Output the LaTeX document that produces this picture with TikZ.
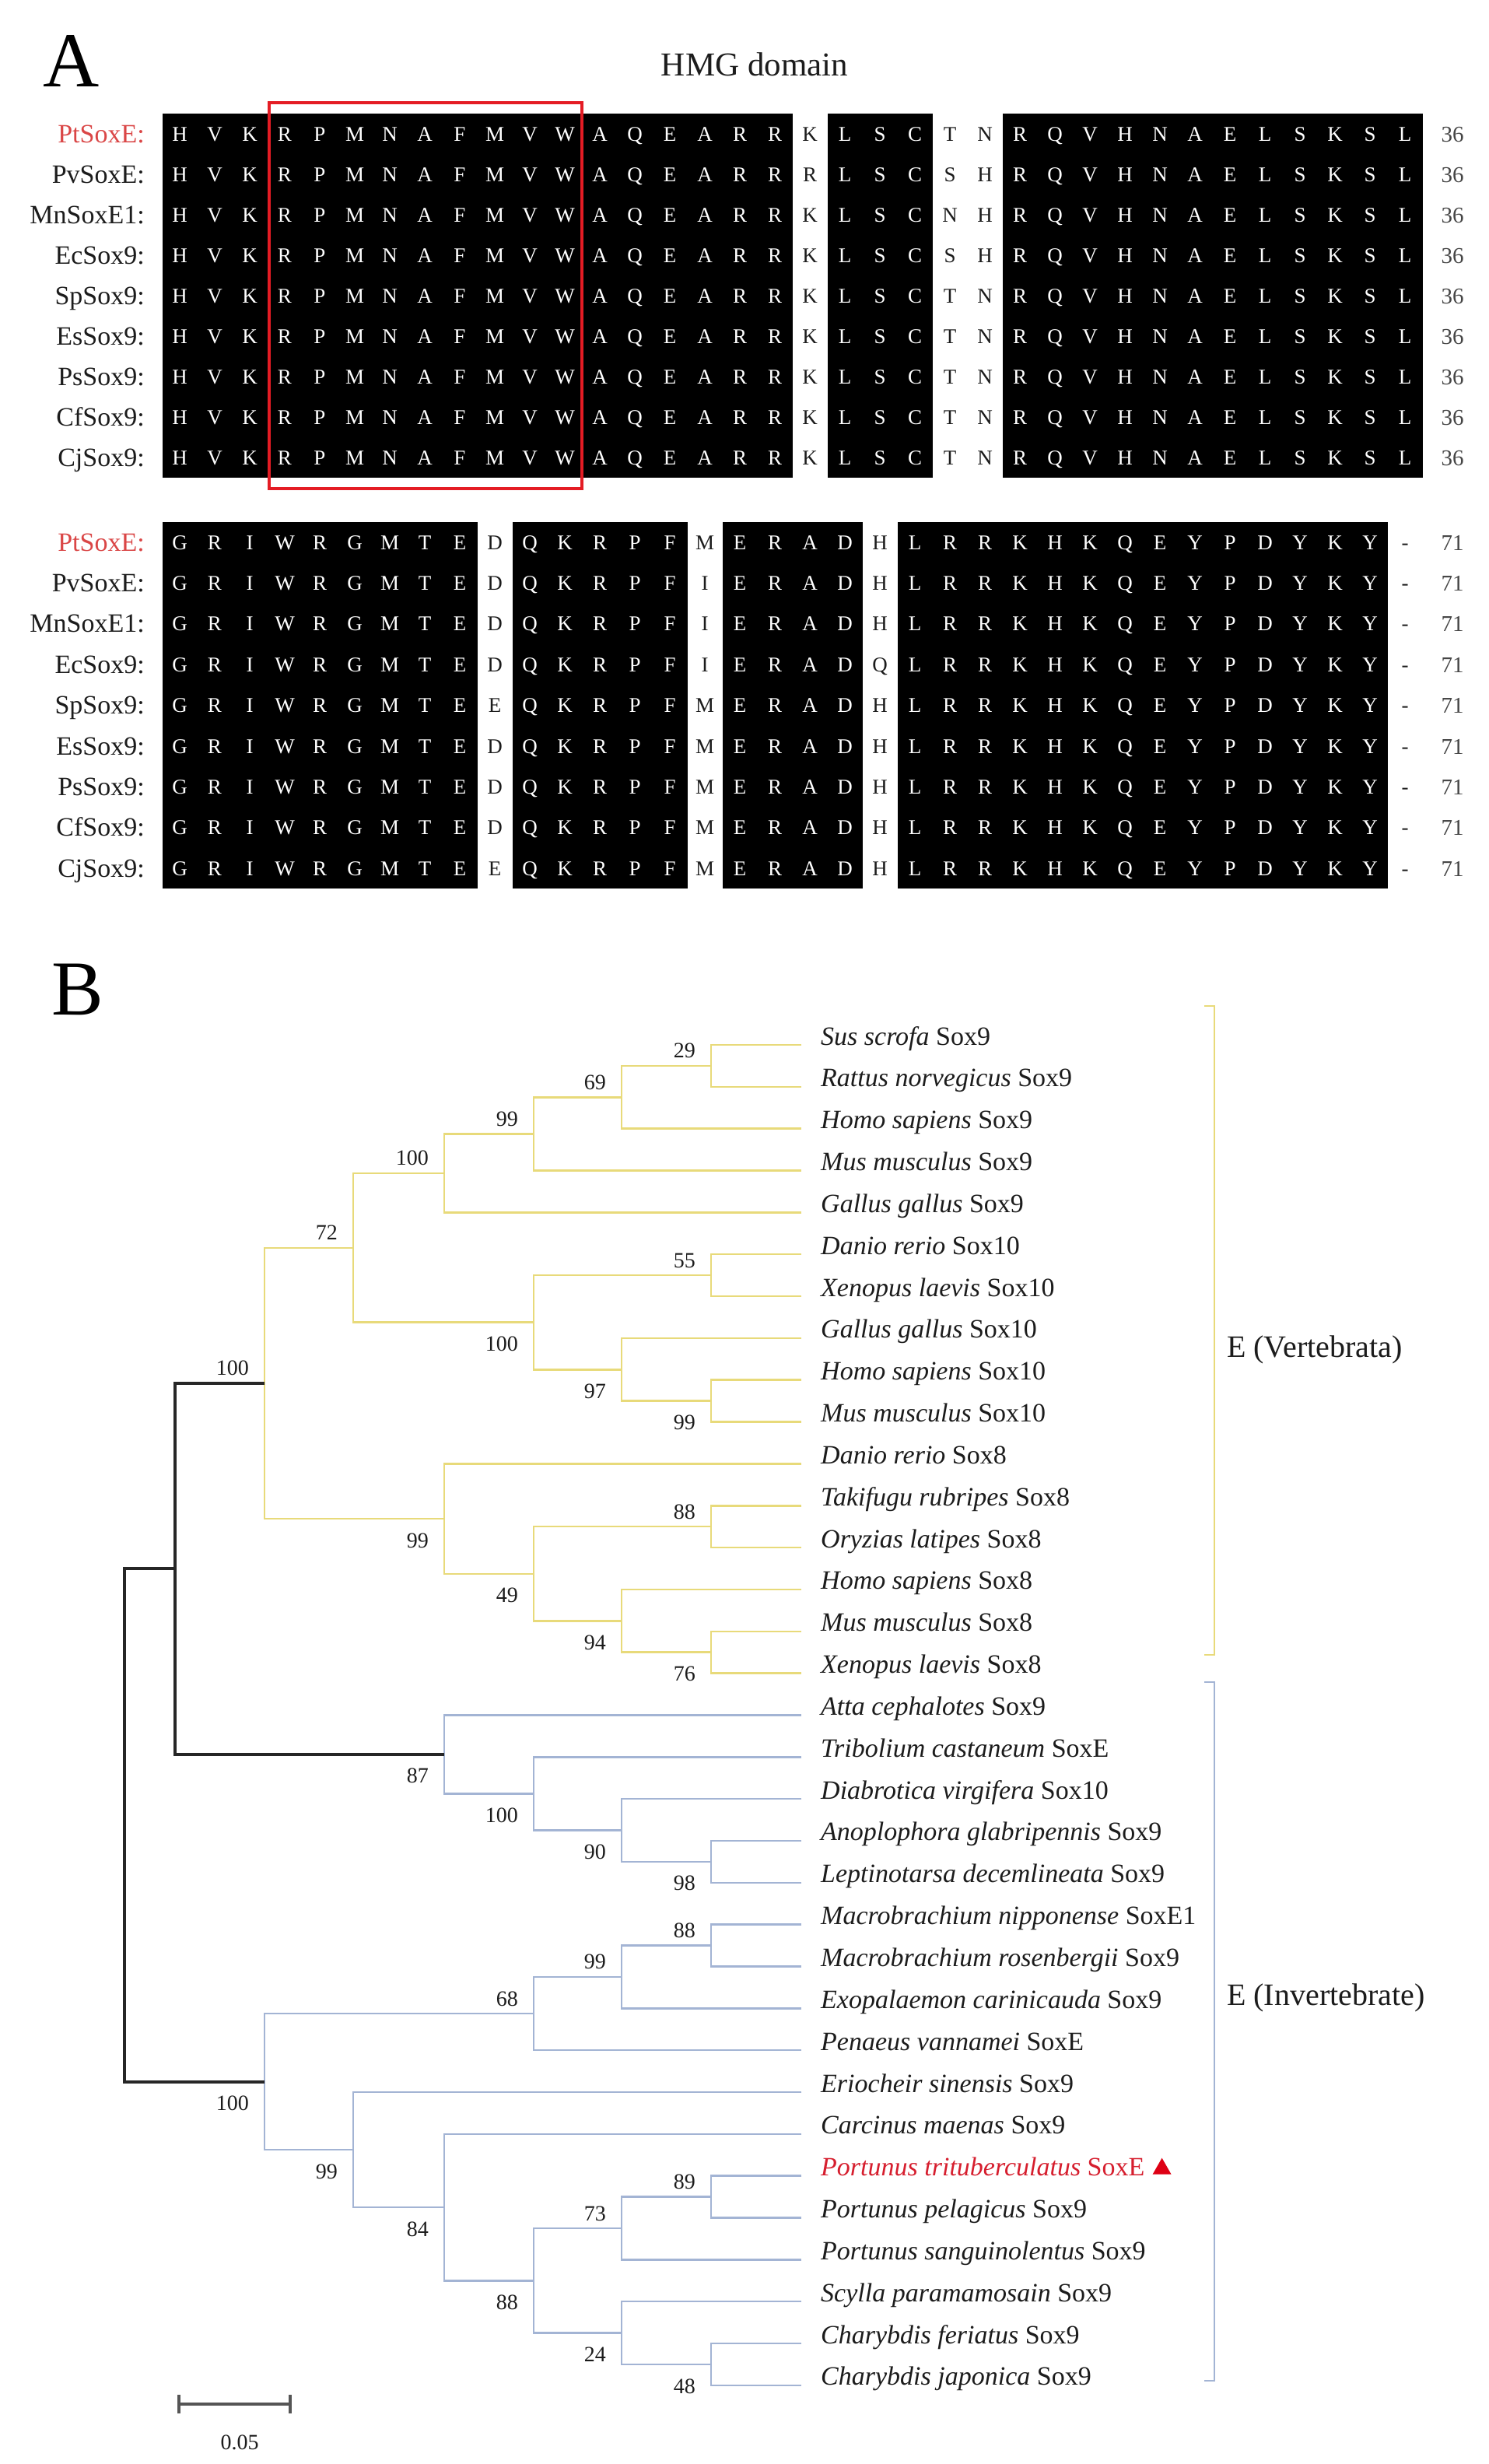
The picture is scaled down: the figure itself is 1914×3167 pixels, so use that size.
\documentclass[tikz,border=0pt]{standalone}
\usepackage{fontspec}
\setmainfont{Liberation Serif}
\usetikzlibrary{calc}
\definecolor{ycol}{RGB}{232,218,122}
\definecolor{bcol}{RGB}{163,180,212}
\definecolor{redbox}{RGB}{228,28,36}
\definecolor{ptred}{RGB}{218,70,70}
\definecolor{leafred}{RGB}{214,30,46}
\definecolor{trired}{RGB}{222,0,20}
\definecolor{txt}{RGB}{28,28,28}
\definecolor{numgray}{RGB}{70,70,70}
\definecolor{sbgray}{RGB}{85,85,85}
\makeatletter
\newcommand\alrow[6]{%
  \node[lab] (#1lab) at (186,#2+11) {#3};
  \node[num] (#1num) at (1867,#2+10) {#6};
  \foreach \c [count=\i] in {#4} {%
    \edef\alTmp{\noexpand\in@{,\i,}{#5}}\alTmp
    \ifin@\node[resd] (#1c\i) at ({231+(\i-1)*45},#2+9) {\c};%
    \else\node[res] (#1c\i) at ({231+(\i-1)*45},#2+9) {\c};\fi
  }%
}
\makeatother
\newcommand\rowA[5]{\alrow{#1}{#2}{#3}{H,V,K,R,P,M,N,A,F,M,V,W,A,Q,E,A,R,R,#4,L,S,C,#5,R,Q,V,H,N,A,E,L,S,K,S,L}{,19,23,24,}{36}}
\newcommand\rowB[6]{\alrow{#1}{#2}{#3}{G,R,I,W,R,G,M,T,E,#4,Q,K,R,P,F,#5,E,R,A,D,#6,L,R,R,K,H,K,Q,E,Y,P,D,Y,K,Y,-}{,10,16,21,36,}{71}}
\newcommand\tn[3]{\coordinate (#1) at (#2,{1343+(#3-1)*53.84});}
\newcommand\bsu[3]{\node[bs] (#1) at ($(#2)+(-20,-10)$) {#3};}
\newcommand\bsd[3]{\node[bs] (#1) at ($(#2)+(-20,37)$) {#3};}
\newcommand\leaflab[2]{\node[leaf] (t#1) at ($(l#1)+(25,0)$) {#2};}
\begin{document}
\begin{tikzpicture}[x=1pt,y=-1pt,
  res/.style={font=\fontsize{27}{27}\selectfont,text=white,anchor=base,inner sep=0pt},
  resd/.style={res,text=txt},
  lab/.style={font=\fontsize{34}{34}\selectfont,text=txt,anchor=base east,inner sep=0pt},
  num/.style={font=\fontsize{29}{29}\selectfont,text=numgray,anchor=base,inner sep=0pt},
  yb/.style={draw=ycol,line width=2.5pt},
  bb/.style={draw=bcol,line width=2.5pt},
  kb/.style={draw=black!85,line width=4pt},
  bs/.style={font=\fontsize{28}{28}\selectfont,text=txt,anchor=base east,inner sep=0pt},
  leaf/.style={font=\fontsize{34}{34}\selectfont,text=txt,anchor=base west,inner sep=0pt},
  grp/.style={font=\fontsize{40}{40}\selectfont,text=txt,anchor=west,inner sep=0pt},
  panel/.style={font=\fontsize{100}{100}\selectfont,text=black,anchor=base west,inner sep=0pt}]
\useasboundingbox (0,0) rectangle (1914,3167);
\fill[white] (0,0) rectangle (1914,3167);

% ---------------- Panel A ----------------
\node[panel] (pA) at (55,111) {A};
\node[font=\fontsize{43}{43}\selectfont,anchor=base,inner sep=0pt,text=txt] (hmg) at (970,97) {HMG domain};

% block 1 black cells
\fill[black] (208.5,146) rectangle (1018.5,614);
\fill[black] (1063.5,146) rectangle (1198.5,614);
\fill[black] (1288.5,146) rectangle (1828.5,614);
% block 2 black cells
\fill[black] (208.5,671) rectangle (613.5,1142);
\fill[black] (658.5,671) rectangle (883.5,1142);
\fill[black] (928.5,671) rectangle (1108.5,1142);
\fill[black] (1153.5,671) rectangle (1783.5,1142);

\rowA{a1}{172}{\textcolor{ptred}{PtSoxE:}}{K}{T,N}
\rowA{a2}{224}{PvSoxE:}{R}{S,H}
\rowA{a3}{276}{MnSoxE1:}{K}{N,H}
\rowA{a4}{328}{EcSox9:}{K}{S,H}
\rowA{a5}{380}{SpSox9:}{K}{T,N}
\rowA{a6}{432}{EsSox9:}{K}{T,N}
\rowA{a7}{484}{PsSox9:}{K}{T,N}
\rowA{a8}{536}{CfSox9:}{K}{T,N}
\rowA{a9}{588}{CjSox9:}{K}{T,N}

\draw[redbox,line width=4pt] (346,132) rectangle (748,628);

\rowB{b1}{697}{\textcolor{ptred}{PtSoxE:}}{D}{M}{H}
\rowB{b2}{749.4}{PvSoxE:}{D}{I}{H}
\rowB{b3}{801.8}{MnSoxE1:}{D}{I}{H}
\rowB{b4}{854.2}{EcSox9:}{D}{I}{Q}
\rowB{b5}{906.6}{SpSox9:}{E}{M}{H}
\rowB{b6}{959}{EsSox9:}{D}{M}{H}
\rowB{b7}{1011.4}{PsSox9:}{D}{M}{H}
\rowB{b8}{1063.8}{CfSox9:}{D}{M}{H}
\rowB{b9}{1116.2}{CjSox9:}{E}{M}{H}

% ---------------- Panel B ----------------
\node[panel] (pB) at (66,1304) {B};

\foreach \i in {1,...,33} {\coordinate (l\i) at (1030,{1343+(\i-1)*53.84});}
% vertebrate nodes
\tn{n29}{914}{1.5}
\tn{n69}{799}{2.25}
\tn{n99a}{686}{3.125}
\tn{n100a}{571}{4.0625}
\tn{n55}{914}{6.5}
\tn{n99b}{914}{9.5}
\tn{n97}{799}{8.75}
\tn{n100b}{686}{7.625}
\tn{n72}{454}{5.84375}
\tn{n88a}{914}{12.5}
\tn{n76}{914}{15.5}
\tn{n94}{799}{14.75}
\tn{n49}{686}{13.625}
\tn{n99c}{571}{12.3125}
\tn{n100v}{340}{9.078125}
% invertebrate nodes
\tn{n98}{914}{20.5}
\tn{n90}{799}{19.75}
\tn{n100i}{686}{18.875}
\tn{n87}{571}{17.9375}
\tn{n225}{225}{13.5078}
\tn{n88b}{914}{22.5}
\tn{n99d}{799}{23.25}
\tn{n68}{686}{24.125}
\tn{n89}{914}{28.5}
\tn{n73}{799}{29.25}
\tn{n48}{914}{32.5}
\tn{n24}{799}{31.75}
\tn{n88c}{686}{30.5}
\tn{n84}{571}{28.75}
\tn{n99e}{454}{27.375}
\tn{n100c}{340}{25.75}
\tn{root}{160}{19.629}

% vertebrate branches
\draw[yb] (l1) -| (n29) |- (l2);
\draw[yb] (n29) -| (n69) |- (l3);
\draw[yb] (n69) -| (n99a) |- (l4);
\draw[yb] (n99a) -| (n100a) |- (l5);
\draw[yb] (l6) -| (n55) |- (l7);
\draw[yb] (l9) -| (n99b) |- (l10);
\draw[yb] (l8) -| (n97) |- (n99b);
\draw[yb] (n55) -| (n100b) |- (n97);
\draw[yb] (n100a) -| (n72) |- (n100b);
\draw[yb] (l12) -| (n88a) |- (l13);
\draw[yb] (l15) -| (n76) |- (l16);
\draw[yb] (l14) -| (n94) |- (n76);
\draw[yb] (n88a) -| (n49) |- (n94);
\draw[yb] (l11) -| (n99c) |- (n49);
\draw[yb] (n72) -| (n100v) |- (n99c);
% invertebrate branches
\draw[bb] (l20) -| (n98) |- (l21);
\draw[bb] (l19) -| (n90) |- (n98);
\draw[bb] (l18) -| (n100i) |- (n90);
\draw[bb] (l17) -| (n87) |- (n100i);
\draw[bb] (l22) -| (n88b) |- (l23);
\draw[bb] (n88b) -| (n99d) |- (l24);
\draw[bb] (n99d) -| (n68) |- (l25);
\draw[bb] (l28) -| (n89) |- (l29);
\draw[bb] (n89) -| (n73) |- (l30);
\draw[bb] (l32) -| (n48) |- (l33);
\draw[bb] (l31) -| (n24) |- (n48);
\draw[bb] (n73) -| (n88c) |- (n24);
\draw[bb] (l27) -| (n84) |- (n88c);
\draw[bb] (l26) -| (n99e) |- (n84);
\draw[bb] (n68) -| (n100c) |- (n99e);
% black backbone
\draw[kb] (n100v) -| (n225) |- (n87);
\draw[kb] (n225) -| (root) |- (n100c);

% bootstrap values
\bsu{s29}{n29}{29}
\bsu{s69}{n69}{69}
\bsu{s99a}{n99a}{99}
\bsu{s100a}{n100a}{100}
\bsu{s72}{n72}{72}
\bsu{s100v}{n100v}{100}
\bsu{s55}{n55}{55}
\bsd{s100b}{n100b}{100}
\bsd{s97}{n97}{97}
\bsd{s99b}{n99b}{99}
\bsd{s99c}{n99c}{99}
\bsu{s88a}{n88a}{88}
\bsd{s49}{n49}{49}
\bsd{s94}{n94}{94}
\bsd{s76}{n76}{76}
\bsd{s87}{n87}{87}
\bsd{s100i}{n100i}{100}
\bsd{s90}{n90}{90}
\bsd{s98}{n98}{98}
\bsu{s88b}{n88b}{88}
\bsu{s99d}{n99d}{99}
\bsu{s68}{n68}{68}
\bsd{s100c}{n100c}{100}
\bsd{s99e}{n99e}{99}
\bsd{s84}{n84}{84}
\bsu{s73}{n73}{73}
\bsu{s89}{n89}{89}
\bsd{s88c}{n88c}{88}
\bsd{s24}{n24}{24}
\bsd{s48}{n48}{48}

% leaf labels
\leaflab{1}{\textit{Sus scrofa} Sox9}
\leaflab{2}{\textit{Rattus norvegicus} Sox9}
\leaflab{3}{\textit{Homo sapiens} Sox9}
\leaflab{4}{\textit{Mus musculus} Sox9}
\leaflab{5}{\textit{Gallus gallus} Sox9}
\leaflab{6}{\textit{Danio rerio} Sox10}
\leaflab{7}{\textit{Xenopus laevis} Sox10}
\leaflab{8}{\textit{Gallus gallus} Sox10}
\leaflab{9}{\textit{Homo sapiens} Sox10}
\leaflab{10}{\textit{Mus musculus} Sox10}
\leaflab{11}{\textit{Danio rerio} Sox8}
\leaflab{12}{\textit{Takifugu rubripes} Sox8}
\leaflab{13}{\textit{Oryzias latipes} Sox8}
\leaflab{14}{\textit{Homo sapiens} Sox8}
\leaflab{15}{\textit{Mus musculus} Sox8}
\leaflab{16}{\textit{Xenopus laevis} Sox8}
\leaflab{17}{\textit{Atta cephalotes} Sox9}
\leaflab{18}{\textit{Tribolium castaneum} SoxE}
\leaflab{19}{\textit{Diabrotica virgifera} Sox10}
\leaflab{20}{\textit{Anoplophora glabripennis} Sox9}
\leaflab{21}{\textit{Leptinotarsa decemlineata} Sox9}
\leaflab{22}{\textit{Macrobrachium nipponense} SoxE1}
\leaflab{23}{\textit{Macrobrachium rosenbergii} Sox9}
\leaflab{24}{\textit{Exopalaemon carinicauda} Sox9}
\leaflab{25}{\textit{Penaeus vannamei} SoxE}
\leaflab{26}{\textit{Eriocheir sinensis} Sox9}
\leaflab{27}{\textit{Carcinus maenas} Sox9}
\leaflab{28}{\textcolor{leafred}{\textit{Portunus trituberculatus} SoxE}}
\leaflab{29}{\textit{Portunus pelagicus} Sox9}
\leaflab{30}{\textit{Portunus sanguinolentus} Sox9}
\leaflab{31}{\textit{Scylla paramamosain} Sox9}
\leaflab{32}{\textit{Charybdis feriatus} Sox9}
\leaflab{33}{\textit{Charybdis japonica} Sox9}
\fill[trired] ($(t28.base east)+(10,-2)$) -- ++(24,0) -- ++(-12,-21) -- cycle;

% group brackets
\coordinate (vbt) at (1561,1293);
\coordinate (vbb) at (1561,2127);
\draw[draw=ycol,line width=2.5pt] ($(vbt)+(-13,0)$) -- (vbt) -- (vbb) -- ($(vbb)+(-13,0)$);
\node[grp] (vlab) at (1577,1735) {E (Vertebrata)};
\coordinate (ibt) at (1561,2162);
\coordinate (ibb) at (1561,3060);
\draw[draw=bcol,line width=2.5pt] ($(ibt)+(-13,0)$) -- (ibt) -- (ibb) -- ($(ibb)+(-13,0)$);
\node[grp] (ilab) at (1577,2568) {E (Invertebrate)};

% scale bar
\coordinate (sbL) at (230,3090);
\coordinate (sbR) at (373,3090);
\draw[sbgray,line width=4pt] (sbL) -- (sbR);
\draw[sbgray,line width=4pt] ($(sbL)+(0,-12)$) -- ($(sbL)+(0,12)$);
\draw[sbgray,line width=4pt] ($(sbR)+(0,-12)$) -- ($(sbR)+(0,12)$);
\node[font=\fontsize{28}{28}\selectfont,text=txt,anchor=base,inner sep=0pt] (sblab) at (308,3148) {0.05};
\end{tikzpicture}
\end{document}
